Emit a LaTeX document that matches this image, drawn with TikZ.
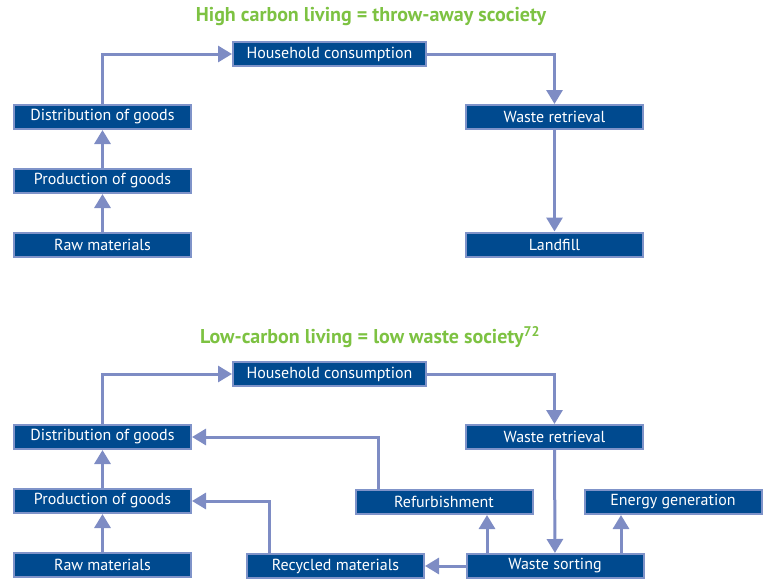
\documentclass[tikz,border=0pt]{standalone}
\usepackage{fontspec}
\setmainfont{PT Sans}
\usepackage{tikz}
\usetikzlibrary{arrows.meta}
\definecolor{boxfill}{HTML}{004A8F}
\definecolor{boxedge}{HTML}{7F93C9}
\definecolor{flow}{HTML}{7E8CC4}
\definecolor{titlegreen}{HTML}{7DC242}
\tikzstyle{box} = [draw=boxedge, fill=boxfill, text=white, line width=2pt, minimum width=177pt, minimum height=24pt, inner sep=0pt, font=\fontsize{16}{18}\selectfont]
\tikzstyle{wide} = [box, minimum width=193pt]
\tikzstyle{heading} = [text=titlegreen, font=\fontsize{20}{23}\selectfont\bfseries]
\tikzstyle{line} = [draw=flow, line width=3pt, -{Triangle[length=14pt,width=16pt]}]

\begin{document}
\begin{tikzpicture}[x=1pt,y=-1pt]
		\useasboundingbox (0,0) rectangle (763,581);
		% high carbon
		\node[heading] (t1) at (371,17) {High carbon living = throw-away scociety};
		\node[wide] (hh1) at (329.5,54) {Household consumption};
		\node[box] (dist1) at (102.5,117) {Distribution of goods};
		\node[box] (prod1) at (102.5,181) {Production of goods};
		\node[box] (raw1) at (102.5,244.5) {Raw materials};
		\node[box] (wr1) at (554.5,117) {Waste retrieval};
		\node[box] (land1) at (554.5,244.5) {Landfill};
		\draw[line] (raw1) -- (prod1);
		\draw[line] (prod1) -- (dist1);
		\draw[line] (dist1.north) |- (hh1.west);
		\draw[line] (hh1.east) -| (wr1.north);
		\draw[line] (wr1) -- (land1);
		% low carbon
		\node[heading] (t2) at (370,337) {Low-carbon living = low waste society\textsuperscript{72}};
		\node[wide] (hh2) at (329.5,374) {Household consumption};
		\node[box] (dist2) at (102.5,437) {Distribution of goods};
		\node[box] (prod2) at (102.5,501) {Production of goods};
		\node[box] (raw2) at (102.5,565) {Raw materials};
		\node[box] (wr2) at (554.5,437) {Waste retrieval};
		\node[box] (ref) at (444,502) {Refurbishment};
		\node[box] (energy) at (673,502) {Energy generation};
		\node[box] (sort) at (555,566) {Waste sorting};
		\node[box] (recyc) at (335.5,566) {Recycled materials};
		\draw[line] (raw2) -- (prod2);
		\draw[line] (prod2) -- (dist2);
		\draw[line] (dist2.north) |- (hh2.west);
		\draw[line] (hh2.east) -| (wr2.north);
		\draw[line] (wr2) -- (sort);
		\draw[line] (sort) -- (recyc);
		\draw[line] ([xshift=-68pt]sort.north) -- ([xshift=-68pt]sort.north |- ref.south);
		\draw[line] ([xshift=66pt]sort.north) -- ([xshift=66pt]sort.north |- energy.south);
		\draw[line] ([xshift=-66pt]ref.north) |- (dist2.east);
		\draw[line] ([xshift=-66pt]recyc.north) |- (prod2.east);
	\end{tikzpicture}
\end{document}
